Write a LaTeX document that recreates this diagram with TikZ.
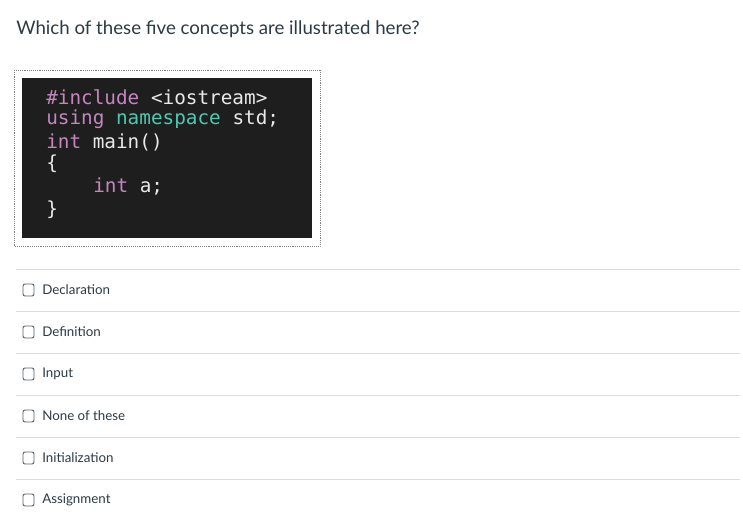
\documentclass[tikz,border=0pt]{standalone}
\usepackage{fontspec}
\setmainfont{Lato}
\newfontfamily\codefont{DejaVu Sans Mono}
\definecolor{kw}{HTML}{C586C0}
\definecolor{tl}{HTML}{4EC9B0}
\definecolor{fg}{HTML}{E8E8E8}
\definecolor{bgc}{HTML}{1E1E1E}
\definecolor{sep}{HTML}{DDDDDD}
\definecolor{txt}{HTML}{2D3B45}
\begin{document}
\begin{tikzpicture}[x=0.75pt,y=-0.75pt,
  opt/.style={anchor=west,font=\fontsize{10}{12}\selectfont,text=txt,inner sep=0},
  box/.style={draw=txt!80,line width=0.7pt,rounded corners=1.5pt},
  code/.style={anchor=west,inner sep=0,font=\codefont\fontsize{14.5}{16}\selectfont,text=fg}]
\useasboundingbox[fill=white] (0,0) rectangle (743,528);
\node[anchor=west,inner sep=0,font=\fontsize{14}{16}\selectfont,text=txt] (title) at (16,29) {Which of these five concepts are illustrated here?};
\draw[densely dotted,gray] (14,70) rectangle (320,246);
\fill[bgc] (22,78) rectangle (312,238);
\node[code] (l1) at (46,97) {\textcolor{kw}{\#include} <iostream>};
\node[code] (l2) at (46,119) {\textcolor{kw}{using} \textcolor{tl}{namespace} std;};
\node[code] (l3) at (46,142) {\textcolor{kw}{int} main()};
\node[code] (l4) at (46,164) {\{};
\node[code] (l5) at (93,187) {\textcolor{kw}{int} a;};
\node[code] (l6) at (46,210) {\}};
\foreach \t [count=\i] in {Declaration,Definition,Input,None of these,Initialization,Assignment}{
  \pgfmathsetmacro{\yy}{290+42*(\i-1)}
  \draw[sep] (16,\yy-21) -- (740,\yy-21);
  \draw[box] (23,\yy-6) rectangle (34,\yy+6);
  \node[opt] (o\i) at (42,\yy) {\t};
}
\end{tikzpicture}
\end{document}
